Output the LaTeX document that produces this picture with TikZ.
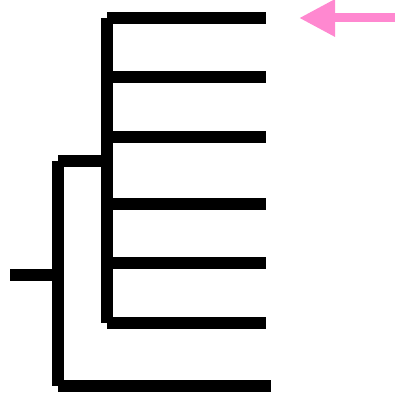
\documentclass[tikz,border=0pt]{standalone}
\usetikzlibrary{arrows.meta,calc}
\definecolor{markpink}{RGB}{255,136,208}
\tikzset{
  branch/.style={line width=12pt, black},
  marker/.style={line width=9pt, markpink, -{Triangle[length=36pt,width=35pt]}}
}
\begin{document}
\begin{tikzpicture}[x=1pt,y=-1pt]
\useasboundingbox (0,0) rectangle (397,398);
% root and outer clade
\coordinate (root) at (10,275);
\coordinate (outer top) at (58,161);
\coordinate (outer bot) at (58,386);
\coordinate (outer mid) at (58,275);
\draw[branch] (root) -- ($(outer mid)+(-6,0)$);
\draw[branch] (outer top) -- (outer bot);
\coordinate (leaf7) at (271,386);
\draw[branch] (outer bot) -- (leaf7);
% inner clade
\coordinate (inner top) at (107,18);
\coordinate (inner bot) at (107,323);
\coordinate (inner mid) at (107,161);
\draw[branch] (outer top) -- (inner mid);
\draw[branch] (inner top) -- (inner bot);
\foreach \y/\n in {18/1,77/2,137/3,204/4,263/5,323/6}{
  \coordinate (start\n) at (107,\y);
  \coordinate (leaf\n) at (266,\y);
  \draw[branch] (start\n) -- (leaf\n);
}
% pointer
\coordinate (tail) at (395,18);
\coordinate (tip) at (299,18);
\draw[marker] (tail) -- (tip);
\end{tikzpicture}
\end{document}
